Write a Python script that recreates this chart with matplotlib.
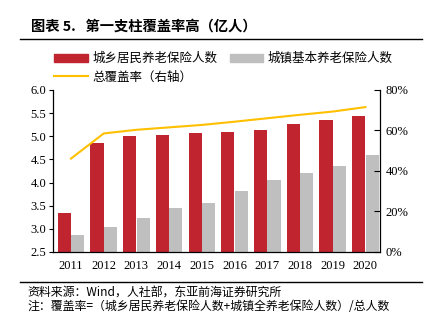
import matplotlib
matplotlib.use("Agg")
import matplotlib.pyplot as plt
from matplotlib.lines import Line2D
from matplotlib.patches import Patch
import numpy as np

years = ["2011", "2012", "2013", "2014", "2015", "2016", "2017", "2018", "2019", "2020"]
rural = [3.34, 4.85, 5.00, 5.03, 5.06, 5.10, 5.14, 5.26, 5.35, 5.44]
urban = [2.86, 3.05, 3.23, 3.44, 3.55, 3.81, 4.05, 4.20, 4.36, 4.59]
coverage = [46.1, 58.5, 60.3, 61.5, 62.7, 64.3, 66.0, 67.7, 69.3, 71.5]

left_ticks = [2.5, 3.0, 3.5, 4.0, 4.5, 5.0, 5.5, 6.0]
right_ticks = [0, 20, 40, 60, 80]

title = "图表 5.   第一支柱覆盖率高（亿人）"
label_rural = "城乡居民养老保险人数"
label_urban = "城镇基本养老保险人数"
label_cov = "总覆盖率（右轴）"
source = "资料来源：Wind，人社部，东亚前海证券研究所"
note = "注：覆盖率=（城乡居民养老保险人数+城镇全养老保险人数）/总人数"

RED = "#C0242E"
GREY = "#BFBFBF"
ORANGE = "#FFC000"

cjk = ["Noto Sans CJK SC", "DejaVu Sans"]
serif = ["Liberation Serif", "DejaVu Serif"]

fig = plt.figure(figsize=(4.31, 3.21), dpi=100)
ax = fig.add_axes([0.123, 0.215, 0.759, 0.505])
x = np.arange(len(years))
w = 0.40
ax.bar(x - 0.205, rural, width=w, color=RED, zorder=2)
ax.bar(x + 0.205, urban, width=w, color=GREY, zorder=2)
ax.set_ylim(2.5, 6.0)
ax.set_xlim(-0.55, 9.45)
ax.set_yticks(left_ticks)
ax.set_yticklabels([f"{v:.1f}" for v in left_ticks], family=serif, fontsize=9)
ax.set_xticks(x)
ax.set_xticklabels(years, family=serif, fontsize=9)
ax.tick_params(axis="x", length=0, pad=6)
ax.tick_params(axis="y", direction="out", length=3, width=0.8, pad=2)
ax.spines["top"].set_visible(False)
ax.spines["right"].set_visible(False)
for s in ["left", "bottom"]:
    ax.spines[s].set_linewidth(0.9)

ax2 = ax.twinx()
ax2.plot(x, coverage, color=ORANGE, lw=1.5, zorder=3)
ax2.set_ylim(0, 80)
ax2.set_yticks(right_ticks)
ax2.set_yticklabels([f"{v}%" for v in right_ticks], family=serif, fontsize=9)
ax2.tick_params(axis="y", direction="in", length=4, width=0.8, pad=4)
ax2.spines["top"].set_visible(False)
ax2.spines["left"].set_visible(False)
ax2.spines["bottom"].set_visible(False)
ax2.spines["right"].set_linewidth(0.9)
ax2.set_xlim(-0.55, 9.45)

# Title and rules
fig.text(31 / 431, 1 - 27 / 321, title, family=cjk, fontsize=10.3, fontweight="bold", va="center", ha="left")
fig.add_artist(Line2D([20 / 431, 422 / 431], [1 - 39 / 321, 1 - 39 / 321], color="black", lw=1.0))
fig.add_artist(Line2D([20 / 431, 422 / 431], [1 - 282 / 321, 1 - 282 / 321], color="black", lw=1.0))

handles = [Patch(color=RED), Line2D([], [], color=ORANGE, lw=1.5), Patch(color=GREY)]
labels = [label_rural, label_cov, label_urban]
leg = fig.legend(handles, labels, loc="upper left", bbox_to_anchor=(54 / 431, 1 - 52 / 321), ncol=2,
                 frameon=False, prop={"family": cjk, "size": 9}, handlelength=2.7, handleheight=0.6,
                 handletextpad=0.35, columnspacing=1.0, labelspacing=0.45, borderaxespad=0, borderpad=0)

fig.text(27 / 431, 1 - 293 / 321, source, family=cjk, fontsize=8.6, va="center", ha="left")
fig.text(27 / 431, 1 - 306 / 321, note, family=cjk, fontsize=8.6, va="center", ha="left")

fig.savefig("out.png", dpi=100)
